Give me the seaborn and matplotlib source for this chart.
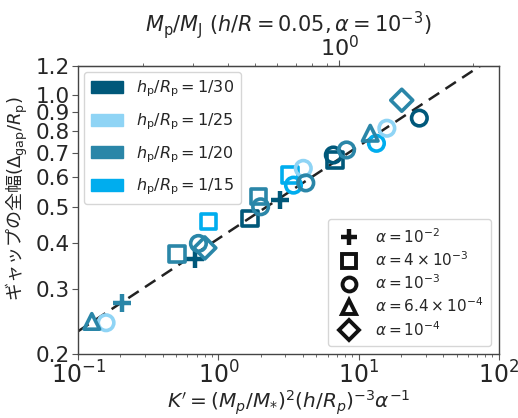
import numpy as np
import pandas as pd
import matplotlib
matplotlib.use("Agg")
import matplotlib.pyplot as plt
import seaborn as sns
from matplotlib.patches import Patch
from matplotlib.lines import Line2D
from matplotlib.ticker import FixedLocator, FormatStrFormatter, NullLocator, NullFormatter

# ---------------- data ----------------
k_prime = [0.125, 0.158, 0.205, 0.505, 0.68, 0.72, 0.80, 0.85, 1.68, 1.93, 2.0, 2.75,
           3.24, 3.43, 4.03, 4.2, 6.79, 6.6, 8.2, 12.1, 13.4, 15.9, 20.3, 27.1]
gap_width = [0.245, 0.243, 0.275, 0.373, 0.361, 0.398, 0.387, 0.456, 0.465, 0.533, 0.50, 0.522,
             0.609, 0.572, 0.635, 0.58, 0.668, 0.69, 0.712, 0.79, 0.742, 0.815, 0.97, 0.868]
aspect = ["1/20", "1/25", "1/20", "1/20", "1/30", "1/20", "1/20", "1/15", "1/30", "1/20", "1/20", "1/30",
          "1/15", "1/15", "1/25", "1/20", "1/30", "1/30", "1/20", "1/20", "1/15", "1/25", "1/20", "1/30"]
alpha_lab = ["6.4e-4", "1e-3", "1e-2", "4e-3", "1e-2", "1e-3", "1e-4", "4e-3", "4e-3", "4e-3", "1e-3", "1e-2",
             "4e-3", "1e-3", "1e-3", "1e-3", "4e-3", "1e-3", "1e-3", "6.4e-4", "1e-3", "1e-3", "1e-4", "1e-3"]

aspect_order = ["1/30", "1/25", "1/20", "1/15"]
aspect_colors = ["#00587a", "#8fd4f5", "#2a86a8", "#00adee"]
alpha_order = ["1e-2", "4e-3", "1e-3", "6.4e-4", "1e-4"]
alpha_markers = ["+", "s", "o", "^", "D"]
alpha_texts = [r"$\alpha = 10^{-2}$", r"$\alpha = 4\times10^{-3}$", r"$\alpha = 10^{-3}$",
               r"$\alpha = 6.4\times10^{-4}$", r"$\alpha = 10^{-4}$"]

# fitted relation endpoints (power law, straight in log-log)
fit_x = [0.1, 100.0]
fit_y = [0.2306, 1.2966]

# conversion K' <-> Mp/MJ for h/R = 0.05, alpha = 1e-3
k_per_mj2 = 7.29
top_ticks = [1.0]

df = pd.DataFrame({"K": k_prime, "D": gap_width, "h": aspect, "a": alpha_lab})
pal = dict(zip(aspect_order, aspect_colors))

# ---------------- plot ----------------
sns.set_style("ticks")
plt.rcParams["font.family"] = ["DejaVu Sans"]
fig = plt.figure(figsize=(5.18, 4.18), dpi=100)
ax = fig.add_axes([0.151, 0.153, 0.812, 0.689])

ax.plot(fit_x, fit_y, ls="--", color="#222222", lw=1.8, dashes=(5, 3), zorder=1)

for a, m in zip(alpha_order, alpha_markers):
    sub = df[df["a"] == a]
    if sub.empty:
        continue
    n0 = len(ax.collections)
    sns.scatterplot(data=sub, x="K", y="D", hue="h", palette=pal, hue_order=aspect_order,
                    marker=m, s=160 if m == "+" else 125, linewidth=3 if m == "+" else 2.6,
                    legend=False, ax=ax, zorder=3)
    for coll in ax.collections[n0:]:
        fc = coll.get_facecolors()
        coll.set_edgecolors(fc)
        coll.set_facecolors("none")
        coll.set_linewidths(3.2 if m == "+" else 2.6)

ax.set_xscale("log")
ax.set_yscale("log")
ax.set_xlim(0.1, 100)
ax.set_ylim(0.2, 1.2)
ax.yaxis.set_major_locator(FixedLocator([0.2, 0.3, 0.4, 0.5, 0.6, 0.7, 0.8, 0.9, 1.0, 1.2]))
ax.yaxis.set_major_formatter(FormatStrFormatter("%.1f"))
ax.yaxis.set_minor_locator(NullLocator())
ax.tick_params(axis="y", which="major", labelsize=15.5, length=4, color="#555555", labelcolor="#262626", pad=2)
ax.tick_params(axis="x", which="major", labelsize=17, length=4, color="#555555", labelcolor="#262626", pad=1)
ax.tick_params(axis="x", which="minor", length=2.5, color="#555555")
for s in ax.spines.values():
    s.set_color("#444444")
    s.set_linewidth(1.0)

ax.set_xlabel(r"$K' = (M_p/M_{*})^2(h/R_p)^{-3}\alpha^{-1}$", fontsize=14.5, color="#262626", labelpad=0)
ax.set_ylabel(r"ギャップの全幅$(\Delta_{\rm gap}/R_{\rm p})$", fontsize=13, color="#262626",
              family=["Noto Sans CJK JP", "DejaVu Sans"], labelpad=2)
ax.yaxis.set_label_coords(-0.115, 0.54)

sec = ax.secondary_xaxis("top", functions=(lambda k: np.sqrt(np.clip(k, 1e-12, None) / k_per_mj2),
                                           lambda m: k_per_mj2 * np.asarray(m) ** 2))
sec.set_xscale("log")
sec.xaxis.set_major_locator(FixedLocator(top_ticks))
sec.xaxis.set_minor_formatter(NullFormatter())
sec.tick_params(axis="x", which="major", labelsize=16, length=4, color="#555555", labelcolor="#262626", pad=0)
sec.tick_params(axis="x", which="minor", length=2.5, color="#555555")
sec.set_xlabel(r"$M_{\rm p}/M_{\rm J}$ $(h/R = 0.05, \alpha = 10^{-3})$", fontsize=15, color="#262626", labelpad=3)

h1 = [Patch(facecolor=c, edgecolor=c, label=r"$h_{\rm p}/R_{\rm p} = %s$" % lab)
      for lab, c in zip(aspect_order, aspect_colors)]
leg1 = ax.legend(handles=h1, loc="upper left", fontsize=11.5, handlelength=2.0, handleheight=0.8,
                 borderpad=0.45, labelspacing=0.75, frameon=True, framealpha=0.8,
                 borderaxespad=0.35)
ax.add_artist(leg1)

h2 = []
for m, t in zip(alpha_markers, alpha_texts):
    if m == "+":
        h2.append(Line2D([], [], ls="none", marker=m, color="#111111", markersize=12, mew=3.2, label=t))
    else:
        h2.append(Line2D([], [], ls="none", marker=m, markerfacecolor="none", markeredgecolor="#111111",
                         markersize=10, mew=2.8, label=t))
ax.legend(handles=h2, loc="lower right", fontsize=11, handlelength=1.8, borderpad=0.5,
          labelspacing=0.3, frameon=True, framealpha=0.8)

fig.savefig("out.png", dpi=100)
